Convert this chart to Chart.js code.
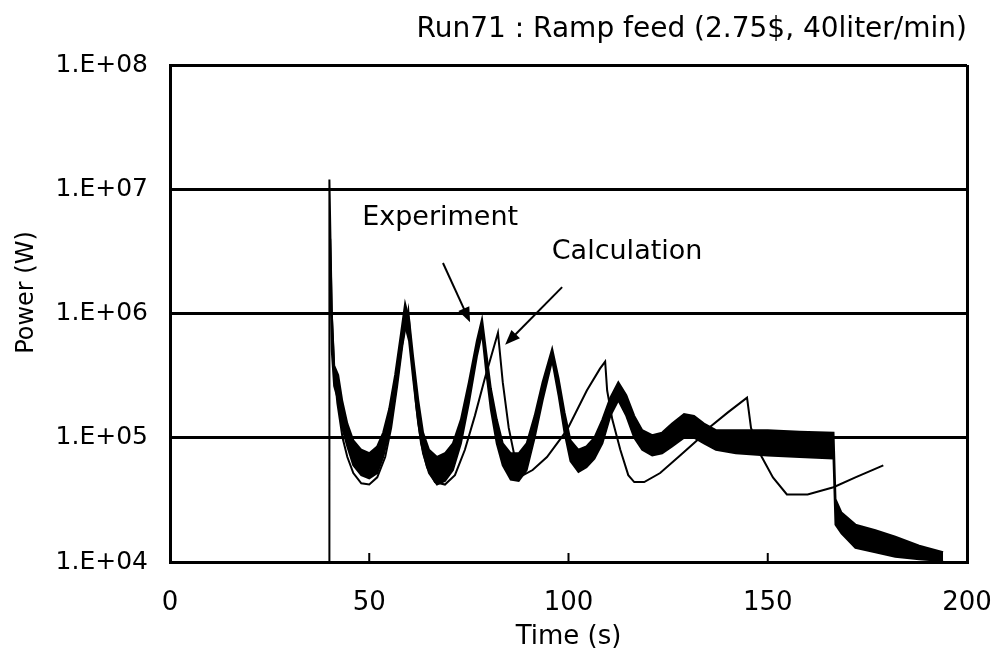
<!DOCTYPE html>
<html>
<head>
<meta charset="utf-8">
<title>Run71 : Ramp feed</title>
<script src="https://cdn.jsdelivr.net/npm/chart.js@4.4.1/dist/chart.umd.min.js"></script>
<style>
  html, body { margin: 0; padding: 0; background: #fff; }
  canvas { display: block; }
</style>
</head>
<body>
<canvas id="myChart" width="993" height="661"></canvas>
<script>
// values
const titleText = 'Run71 : Ramp feed (2.75$, 40liter/min)';
const yTitle = 'Power (W)';
const xTicks = [0, 50, 100, 150, 200];
const yTicks = [1e4, 1e5, 1e6, 1e7, 1e8];
const yTickLabels = ['1.E+04', '1.E+05', '1.E+06', '1.E+07', '1.E+08'];

// experiment: noisy trace, kept as upper / lower envelope
const expTime = [40.2, 40.6, 41.2, 42.2, 43.2, 44.5, 46, 48, 50, 52, 53.5, 55, 56.5, 58, 59, 60, 61, 62.3, 63.5, 65,
  67, 69, 71, 73, 75, 77, 78.3, 79.3, 80.5, 82, 83.5, 85.5, 87.5, 89.5, 91.5, 93.5, 95.9, 97.5, 99, 100.5,
  102.5, 104.5, 106.5, 108.5, 110.5, 112.5, 114.5, 116.5, 118.5, 121, 123.5, 126, 129, 131.5, 134, 137, 142, 150, 158, 166.5,
  167, 168.5, 172, 177, 182, 188, 194];
const expHigh = [4.0e6, 1.0e6, 3.8e5, 3.2e5, 2.0e5, 1.3e5, 9.5e4, 8e4, 7.5e4, 8.5e4, 1.1e5, 1.7e5, 3.2e5, 7e5, 1.2e6, 9e5, 4.5e5, 2e5, 1.1e5, 8e4,
  7e4, 7.5e4, 9e4, 1.4e5, 2.8e5, 6e5, 9e5, 5e5, 2.5e5, 1.4e5, 9e4, 7.5e4, 7.5e4, 9e4, 1.5e5, 2.8e5, 5.2e5, 3e5, 1.6e5, 9.5e4,
  8e4, 8.5e4, 1.0e5, 1.4e5, 2.1e5, 2.8e5, 2.2e5, 1.5e5, 1.15e5, 1.05e5, 1.1e5, 1.3e5, 1.55e5, 1.5e5, 1.3e5, 1.15e5, 1.15e5, 1.15e5, 1.12e5, 1.1e5,
  3.2e4, 2.5e4, 2.0e4, 1.8e4, 1.6e4, 1.35e4, 1.2e4];
const expLow = [2.5e6, 5e5, 2.6e5, 2.0e5, 1.2e5, 8.5e4, 6e4, 5e4, 4.7e4, 5.2e4, 7e4, 1.1e5, 2.2e5, 5e5, 8e5, 6e5, 3e5, 1.3e5, 7.5e4, 5.2e4,
  4.2e4, 4.5e4, 5.5e4, 9e4, 1.9e5, 4.5e5, 7e5, 3.5e5, 1.7e5, 9e4, 6e4, 4.6e4, 4.5e4, 5.5e4, 1.0e5, 2e5, 4.2e5, 2.2e5, 1.1e5, 6.5e4,
  5.3e4, 5.8e4, 6.8e4, 9e4, 1.5e5, 2.0e5, 1.5e5, 1.0e5, 8e4, 7.2e4, 7.5e4, 8.5e4, 1.0e5, 1.0e5, 9e4, 8e4, 7.5e4, 7.2e4, 7e4, 6.8e4,
  2.0e4, 1.7e4, 1.3e4, 1.2e4, 1.1e4, 1.05e4, 1.02e4];

// calculation
const calcTime = [40, 40, 40.6, 41.2, 42, 43.3, 44.5, 46, 48, 50, 52, 54, 55.5, 57, 58.3, 59.8, 60.8, 61.8, 63, 64.5,
  66.5, 69, 71.5, 74, 76.5, 79, 82.3, 83.5, 85, 86.7, 88.6, 91, 94.6, 99.6, 104.6, 107.9, 109.2, 109.7, 111, 113,
  115, 116.5, 119, 123, 128, 133, 135.5, 140, 144.8, 145.8, 148, 151.3, 154.8, 160, 166.5, 172, 179];
const calcPower = [1e4, 1.2e7, 1.0e6, 3.5e5, 1.9e5, 1.0e5, 7e4, 5.2e4, 4.3e4, 4.2e4, 4.8e4, 7e4, 1.2e5, 2.6e5, 5.5e5, 1.05e6, 4e5, 1.8e5, 9e4, 5.8e4,
  4.4e4, 4.2e4, 5e4, 8e4, 1.5e5, 3e5, 7.0e5, 2.8e5, 1.2e5, 6.5e4, 5.0e4, 5.5e4, 7.0e4, 1.15e5, 2.4e5, 3.6e5, 4.1e5, 2.4e5, 1.4e5, 8e4,
  5e4, 4.4e4, 4.4e4, 5.2e4, 7.2e4, 1.0e5, 1.22e5, 1.6e5, 2.1e5, 1.2e5, 7.5e4, 4.8e4, 3.5e4, 3.5e4, 4.0e4, 4.8e4, 6.0e4];

// labels with arrows (data coordinates)
const noteText = ['Experiment', 'Calculation'];
const noteX = [67.8, 114.7];
const noteY = [5.9e6, 3.1e6];
const arrowFromX = [68.5, 98.4];
const arrowFromY = [2.55e6, 1.63e6];
const arrowToX = [75.3, 84.1];
const arrowToY = [8.5e5, 5.6e5];

const FONT = '"DejaVu Sans", sans-serif';

const pts = (xs, ys) => xs.map((x, i) => ({x: x, y: ys[i]}));

const decor = {
  id: 'decor',
  afterDraw(chart) {
    const {ctx, chartArea, scales: {x, y}} = chart;
    ctx.save();
    ctx.strokeStyle = '#000';
    ctx.fillStyle = '#000';
    ctx.lineWidth = 2;
    // small inward ticks on the time axis
    xTicks.slice(1, -1).forEach(v => {
      const px = x.getPixelForValue(v);
      ctx.beginPath();
      ctx.moveTo(px, chartArea.bottom);
      ctx.lineTo(px, chartArea.bottom - 9);
      ctx.stroke();
    });
    // run title, top right
    ctx.font = '28px ' + FONT;
    ctx.textAlign = 'right';
    ctx.textBaseline = 'alphabetic';
    ctx.fillText(titleText, chartArea.right, chartArea.top - 28);
    // y axis title, sits a bit above the middle in the original
    ctx.save();
    ctx.font = '24px ' + FONT;
    ctx.textAlign = 'center';
    ctx.textBaseline = 'middle';
    ctx.translate(27, (chartArea.top + chartArea.bottom) / 2 - 21);
    ctx.rotate(-Math.PI / 2);
    ctx.fillText(yTitle, 0, 0);
    ctx.restore();
    // notes + arrows
    ctx.font = '27px ' + FONT;
    ctx.textAlign = 'center';
    ctx.textBaseline = 'middle';
    noteText.forEach((t, i) => {
      ctx.fillText(t, x.getPixelForValue(noteX[i]), y.getPixelForValue(noteY[i]));
      const x0 = x.getPixelForValue(arrowFromX[i]), y0 = y.getPixelForValue(arrowFromY[i]);
      const x1 = x.getPixelForValue(arrowToX[i]), y1 = y.getPixelForValue(arrowToY[i]);
      const a = Math.atan2(y1 - y0, x1 - x0);
      ctx.beginPath();
      ctx.moveTo(x0, y0);
      ctx.lineTo(x1 - 10 * Math.cos(a), y1 - 10 * Math.sin(a));
      ctx.stroke();
      ctx.beginPath();
      ctx.moveTo(x1, y1);
      ctx.lineTo(x1 - 15 * Math.cos(a) + 6 * Math.sin(a), y1 - 15 * Math.sin(a) - 6 * Math.cos(a));
      ctx.lineTo(x1 - 15 * Math.cos(a) - 6 * Math.sin(a), y1 - 15 * Math.sin(a) + 6 * Math.cos(a));
      ctx.closePath();
      ctx.fill();
    });
    ctx.restore();
  }
};

const config = {
  type: 'line',
  data: {
    datasets: [{
      label: 'Experiment (low)',
      data: pts(expTime, expLow),
      borderColor: '#000',
      borderWidth: 2,
      pointRadius: 0,
      fill: false
    }, {
      label: 'Experiment (high)',
      data: pts(expTime, expHigh),
      borderColor: '#000',
      backgroundColor: '#000',
      borderWidth: 2,
      pointRadius: 0,
      fill: '-1'
    }, {
      label: 'Calculation',
      data: pts(calcTime, calcPower),
      borderColor: '#000',
      borderWidth: 2,
      pointRadius: 0,
      fill: false
    }]
  },
  options: {
    responsive: false,
    animation: false,
    devicePixelRatio: 1,
    layout: { padding: { top: 65, right: 26, left: 0, bottom: 0 } },
    plugins: {
      legend: { display: false },
      tooltip: { enabled: false }
    },
    scales: {
      x: {
        type: 'linear',
        min: 0,
        max: 200,
        afterFit: s => { s.height = 99; s.paddingLeft = 0; s.paddingRight = 0; },
        ticks: { stepSize: 50, color: '#000', padding: 26, font: { family: FONT, size: 26 } },
        grid: {
          drawTicks: false,
          lineWidth: 3,
          color: c => c.tick && c.tick.value === 200 ? '#000' : 'rgba(0,0,0,0)'
        },
        border: { display: true, color: '#000', width: 3 },
        title: { display: true, text: 'Time (s)', color: '#000', font: { family: FONT, size: 26 }, padding: { top: 0, bottom: 8 } }
      },
      y: {
        type: 'logarithmic',
        min: 1e4,
        max: 1e8,
        afterFit: s => { s.width = 170; s.paddingTop = 0; s.paddingBottom = 0; },
        afterBuildTicks: s => { s.ticks = yTicks.map(v => ({value: v})); },
        ticks: {
          autoSkip: false,
          color: '#000',
          padding: 22,
          font: { family: FONT, size: 25 },
          callback: (v, i) => yTickLabels[i]
        },
        grid: { drawTicks: false, lineWidth: 3, color: '#000' },
        border: { display: true, color: '#000', width: 3 }
      }
    }
  },
  plugins: [decor]
};

const ctx = document.getElementById('myChart').getContext('2d');
new Chart(ctx, config);
</script>
</body>
</html>
